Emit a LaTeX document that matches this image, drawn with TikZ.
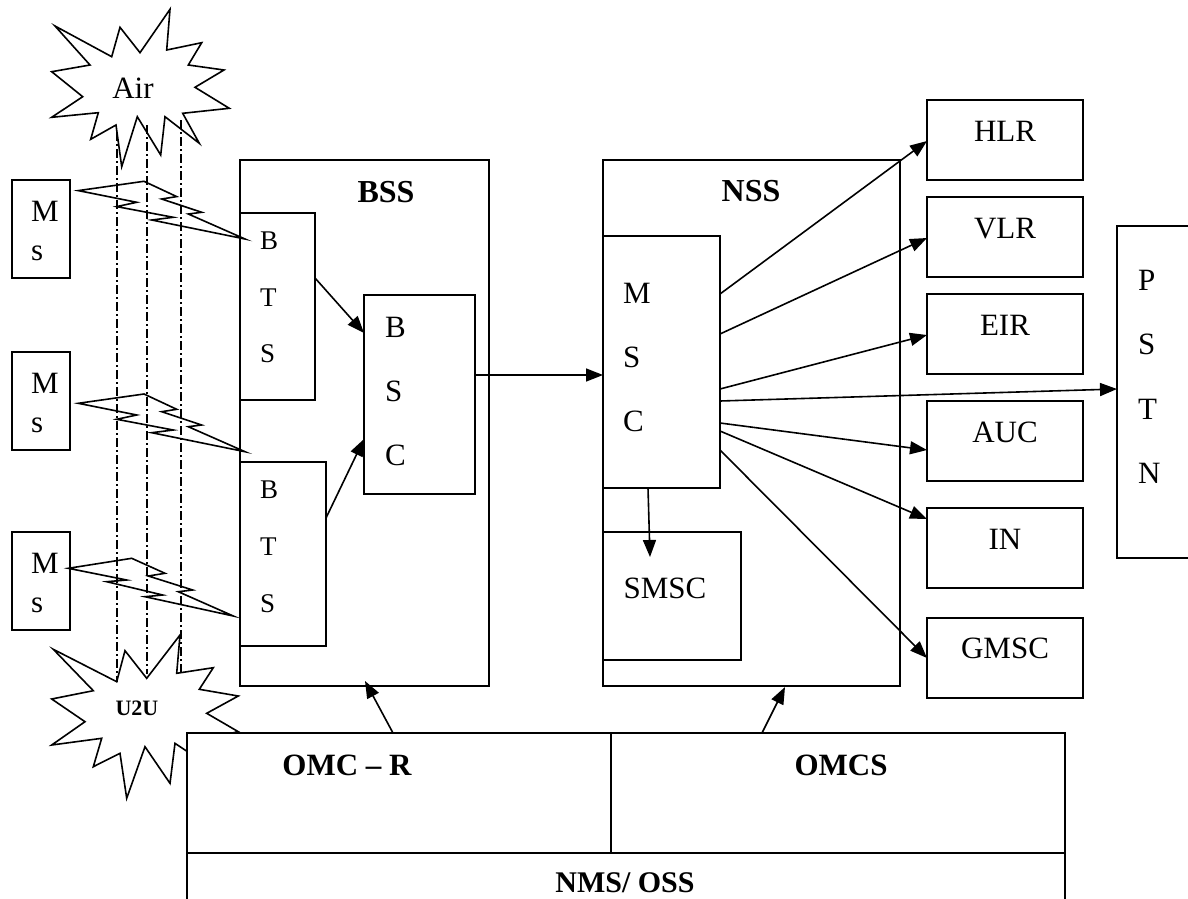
\documentclass[tikz,border=0pt]{standalone}
\usepackage{fontspec}
\setmainfont{Liberation Serif}
\usetikzlibrary{arrows.meta}
\tikzset{
  box/.style={draw, line width=1.7pt, outer sep=0pt, inner sep=0pt, anchor=north west, fill=white},
  lbl/.style={anchor=base, inner sep=0pt, font=\fontsize{31}{37}\selectfont},
  lbll/.style={anchor=base west, inner sep=0pt, font=\fontsize{31}{37}\selectfont},
  small/.style={anchor=base west, inner sep=0pt, font=\fontsize{27}{32}\selectfont},
  bold/.style={anchor=base, inner sep=0pt, font=\fontsize{32}{38}\selectfont\bfseries},
  arr/.style={-{Triangle[length=17pt,width=13pt]}, line width=1.6pt},
  star/.style={draw, line width=1.6pt, fill=white, line join=miter},
  bolt/.style={draw, line width=1.6pt, line join=miter},
  dashdot/.style={line width=1.6pt, dash pattern=on 9pt off 3pt on 2pt off 3pt}
}
\begin{document}
\begin{tikzpicture}[x=1pt,y=-1pt]
\useasboundingbox (0,0) rectangle (1188,899);
\clip (0,0) rectangle (1188,899);

% stars
\draw[star] (55,26)--(111.7,56.7)--(120,27.3)--(140,52.7)--(170,9.3)--(166.7,50)--(201.7,42.7)--(188.3,65)--(224,70)--(195,87.3)--(229.3,108.3)--(182.7,113.3)--(199.3,143.3)--(165,116.7)--(160.7,155)--(137.3,116.7)--(121.7,166.7)--(116,125)--(90.7,139.3)--(98.3,112.7)--(51.7,117.3)--(82.7,96.7)--(51.7,71.7)--(90,65)--cycle;
\node[anchor=base, inner sep=0pt, font=\fontsize{31}{37}\selectfont] (air) at (133,98) {Air};

\draw[star] (53.3,649.3)--(116.7,681.7)--(125,650.7)--(146.7,678.3)--(180,635)--(176.7,673.3)--(213.3,667.7)--(199.3,689.3)--(238.3,696)--(206.7,713.3)--(238.3,731.7)--(200,740)--(215,770)--(175,743.3)--(170,783.3)--(145,746.7)--(126.7,798.3)--(120,753.3)--(93.3,766.7)--(101.7,738.3)--(51.7,745)--(85,721.7)--(51.7,699)--(93.3,690.7)--cycle;
\node[anchor=base, inner sep=0pt, font=\fontsize{22}{26}\selectfont\bfseries] (u2u) at (137,715) {U2U};

% dash-dot lines between the stars
\coordinate (d1a) at (117,132); \coordinate (d1b) at (117,682);
\coordinate (d2a) at (147,125); \coordinate (d2b) at (147,674);
\coordinate (d3a) at (181,120); \coordinate (d3b) at (181,672);
\draw[dashdot] (d1a) -- (d1b);
\draw[dashdot] (d2a) -- (d2b);
\draw[dashdot] (d3a) -- (d3b);

% Ms boxes
\node[box, minimum width=58, minimum height=98] (ms1) at (12,180) {};
\node[box, minimum width=58, minimum height=98] (ms2) at (12,352) {};
\node[box, minimum width=58, minimum height=98] (ms3) at (12,532) {};
\node[lbll] (ms1m) at (31,221) {M}; \node[lbll] (ms1s) at (31,260) {s};
\node[lbll] (ms2m) at (31,393) {M}; \node[lbll] (ms2s) at (31,432) {s};
\node[lbll] (ms3m) at (31,573) {M}; \node[lbll] (ms3s) at (31,612) {s};

% BSS
\node[box, minimum width=249, minimum height=526] (bss) at (240,160) {};
\node[bold] (bsst) at (386,202) {BSS};
\node[box, minimum width=75, minimum height=187] (bts1) at (240,213) {};
\node[box, minimum width=86, minimum height=184] (bts2) at (240,462) {};
\node[box, minimum width=111, minimum height=199] (bsc) at (364,295) {};
\node[small] (b1b) at (260,249) {B}; \node[small] (b1t) at (260,306) {T}; \node[small] (b1s) at (260,362) {S};
\node[small] (b2b) at (260,498) {B}; \node[small] (b2t) at (260,555) {T}; \node[small] (b2s) at (260,612) {S};
\node[lbll] (cb) at (385,337) {B}; \node[lbll] (cs) at (385,401) {S}; \node[lbll] (cc) at (385,465) {C};

% bolts (radio links)
\draw[bolt] (78.3,190.6)--(144,181.3)--(176.7,196.6)--(161.7,199)--(201.7,212.3)--(188.3,214)--(245,239)--(151.7,220)--(173.3,217.3)--(116.7,206.6)--(136.7,202.3)--cycle;
\draw[bolt] (78.3,403.3)--(144,394)--(176.7,409.3)--(161.7,411.7)--(201.7,425)--(188.3,426.7)--(245,451.7)--(151.7,432.7)--(173.3,430)--(116.7,419.3)--(136.7,415)--cycle;
\draw[bolt] (68.3,568.3)--(131.7,558.3)--(165,573.3)--(148.3,576)--(192.7,590)--(178.3,591.7)--(233.3,616)--(145,596.7)--(162.7,595)--(106.7,581.7)--(126.7,580)--cycle;

% NSS
\node[box, minimum width=297, minimum height=526] (nss) at (603,160) {};
\node[bold] (nsst) at (751,201) {NSS};
\node[box, minimum width=117, minimum height=252] (msc) at (603,236) {};
\node[lbll] (mm) at (623,303) {M}; \node[lbll] (ms) at (623,367) {S}; \node[lbll] (mc) at (623,431) {C};
\node[box, minimum width=138, minimum height=128] (smsc) at (603,532) {};
\node[lbl] (smsct) at (665,598) {SMSC};

% right column
\node[box, minimum width=156, minimum height=80] (hlr) at (927,100) {};
\node[box, minimum width=156, minimum height=80] (vlr) at (927,197) {};
\node[box, minimum width=156, minimum height=80] (eir) at (927,294) {};
\node[box, minimum width=156, minimum height=80] (auc) at (927,401) {};
\node[box, minimum width=156, minimum height=80] (inb) at (927,508) {};
\node[box, minimum width=156, minimum height=80] (gmsc) at (927,618) {};
\node[lbl] (hlrt) at (1005,141.5) {HLR};
\node[lbl] (vlrt) at (1005,238.5) {VLR};
\node[lbl] (eirt) at (1005,335.5) {EIR};
\node[lbl] (auct) at (1005,442) {AUC};
\node[lbl] (int) at (1005,549) {IN};
\node[lbl] (gmsct) at (1005,658) {GMSC};

% PSTN
\node[box, minimum width=90, minimum height=332] (pstn) at (1117,226) {};
\node[lbll] (pp) at (1138,290) {P}; \node[lbll] (ps) at (1138,354.5) {S};
\node[lbll] (pt) at (1138,419) {T}; \node[lbll] (pn) at (1138,483.5) {N};

% arrows
\draw[arr] ([yshift=-65pt]bts1.north east) -- ([yshift=-38pt]bsc.north west);
\draw[arr] ([yshift=-56pt]bts2.north east) -- ([yshift=-144pt]bsc.north west);
\draw[arr] ([yshift=-80pt]bsc.north east) -- ([yshift=-139pt]msc.north west);
\draw[arr] ([xshift=45pt]msc.south west) -- ([xshift=47pt,yshift=-25pt]smsc.north west);
\draw[arr] ([yshift=-58pt]msc.north east) -- ([yshift=-41pt]hlr.north west);
\draw[arr] ([yshift=-98pt]msc.north east) -- ([yshift=-41pt]vlr.north west);
\draw[arr] ([yshift=-153pt]msc.north east) -- ([yshift=-41pt]eir.north west);
\draw[arr] ([yshift=-165pt]msc.north east) -- ([yshift=-163pt]pstn.north west);
\draw[arr] ([yshift=-187pt]msc.north east) -- ([yshift=-49pt]auc.north west);
\draw[arr] ([yshift=-195pt]msc.north east) -- ([yshift=-11pt]inb.north west);
\draw[arr] ([yshift=-214pt]msc.north east) -- ([yshift=-40pt]gmsc.north west);

% OMC / NMS
\node[box, minimum width=424, minimum height=120] (omcr) at (187,733) {};
\node[box, minimum width=454, minimum height=120] (omcs) at (611,733) {};
\node[box, minimum width=878, minimum height=100] (nms) at (187,853) {};
\node[bold, font=\fontsize{31}{37}\selectfont\bfseries] (omcrt) at (347,775) {OMC – R};
\node[bold, font=\fontsize{31}{37}\selectfont\bfseries] (omcst) at (841,775) {OMCS};
\node[bold, font=\fontsize{30}{36}\selectfont\bfseries] (nmst) at (625,892) {NMS/ OSS};
\draw[arr] ([xshift=206pt]omcr.north west) -- ([xshift=125pt,yshift=5pt]bss.south west);
\draw[arr] ([xshift=151pt]omcs.north west) -- ([xshift=182pt,yshift=-1pt]nss.south west);
\end{tikzpicture}
\end{document}
